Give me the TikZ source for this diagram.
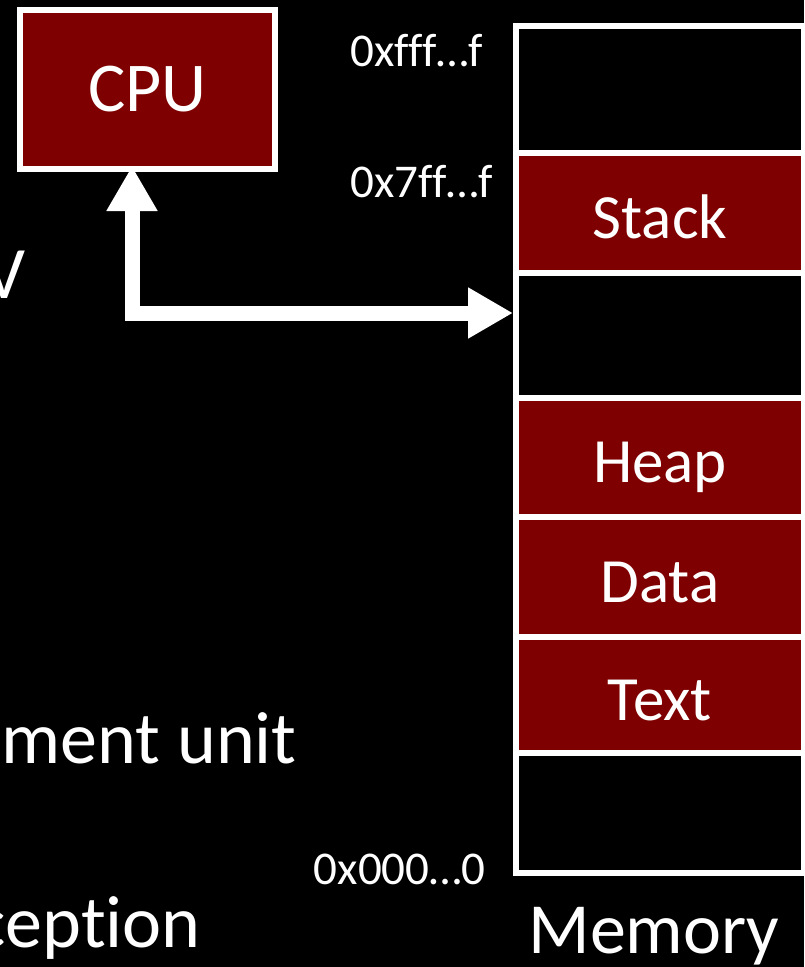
\documentclass[tikz,border=0pt]{standalone}
\usepackage{fontspec}
\setmainfont{Carlito}[Ligatures={NoCommon}]
\usepackage{xcolor}
\usetikzlibrary{arrows.meta, positioning}
\definecolor{memred}{RGB}{127,0,0}
\newcommand{\fsz}[1]{\fontsize{#1}{#1}\selectfont}
\tikzstyle{box} = [rectangle, draw=white, line width=6pt, fill=memred, text=white, inner sep=0pt, outer sep=0pt, font=\fsz{70}]
\tikzstyle{seg} = [rectangle, draw=white, line width=6pt, minimum width=288pt, inner sep=0pt, outer sep=0pt, text=white, text height=50pt, text depth=0pt, font=\fsz{63}]
\tikzstyle{used} = [seg, fill=memred]
\tikzstyle{free} = [seg, fill=black]
\tikzstyle{addr} = [text=white, inner sep=0pt, font=\fsz{47}]
\tikzstyle{bullet} = [text=white, inner sep=0pt, font=\fsz{74}]
\tikzstyle{bus} = [white, line width=15pt, {Triangle[width=48pt,length=45pt]}-{Triangle[width=48pt,length=45pt]}, shorten <=-3pt, shorten >=3pt]

\begin{document}
\begin{tikzpicture}[x=1pt, y=-1pt]
    \fill[black] (0,0) rectangle (804,967);
    \clip (0,0) rectangle (804,967);

    % left-hand slide text (cut off)
    \node (b1) [bullet, anchor=base east] at (26,298) {V};
    \node (b2) [bullet, anchor=base east] at (297,763) {ment unit};
    \node (b3) [bullet, anchor=base east] at (201,947) {cept\kern0pt ion};

    \node (cpu) [box, minimum width=255pt, minimum height=159pt] at (147.5,89.5) {CPU};

    % memory layout
    \node (top) [free, minimum height=127pt] at (660,89.5) {};
    \node (stack) [used, minimum height=120pt, below=0pt of top] {Stack};
    \node (gap) [free, minimum height=125pt, below=0pt of stack] {};
    \node (heap) [used, minimum height=119pt, below=0pt of gap] {Heap};
    \node (data) [used, minimum height=120pt, below=0pt of heap] {Data};
    \node (text) [used, minimum height=116pt, below=0pt of data] {Text};
    \node (bot) [free, minimum height=120pt, below=0pt of text] {};

    \node (hi) [addr, anchor=base west] at (350,66) {0xfff…f};
    \node (stacktop) [addr, anchor=base west] at (350,197) {0x7ff…f};
    \node (lo) [addr, anchor=base east] at (486,884) {0x000…0};
    \node (memlabel) [text=white, inner sep=0pt, font=\fsz{72}, anchor=base] at (654,953) {Memory};

    \draw [bus] ([xshift=-15.5pt]cpu.south) |- ([yshift=22.5pt]gap.west);
\end{tikzpicture}
\end{document}
